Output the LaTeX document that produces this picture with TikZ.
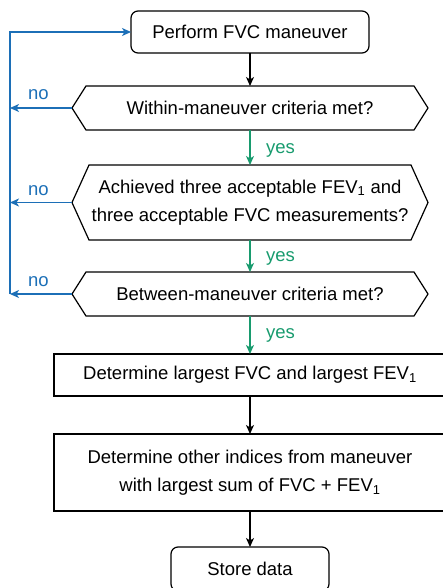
\documentclass[tikz,border=0pt]{standalone}
\usepackage{fontspec}
\setmainfont{Liberation Sans}
\usetikzlibrary{arrows.meta}
\definecolor{noblue}{RGB}{28,111,183}
\definecolor{yesgreen}{RGB}{24,155,110}
\begin{document}
\begin{tikzpicture}[x=1pt,y=-1pt,
 every node/.style={font=\fontsize{18.5}{28.5}\selectfont, inner sep=0pt, outer sep=0pt},
 rbox/.style={draw, rounded corners=7pt, line width=1.2pt, minimum height=42pt},
 pbox/.style={draw, line width=1.2pt, align=center},
 dnode/.style={minimum width=356pt, align=center},
 hexa/.style={draw, line width=1.2pt, line join=miter},
 flow/.style={line width=1.3pt, -{Stealth[length=9pt,width=8pt,inset=2.5pt]}},
 noline/.style={flow, draw=noblue},
 yesline/.style={flow, draw=yesgreen},
 nolab/.style={text=noblue, anchor=base west},
 yeslab/.style={text=yesgreen, anchor=base west}]
\useasboundingbox (0,0) rectangle (443,588);

% nodes
\node[rbox, minimum width=238pt] (p) at (250,32) {Perform FVC maneuver};
\node[dnode, minimum height=44pt] (d1) at (250,108) {Within-maneuver criteria met?};
\node[dnode, minimum height=75pt] (d2) at (250,202.5) {Achieved three acceptable FEV\textsubscript{1} and\\three acceptable FVC measurements?};
\node[dnode, minimum height=44pt] (d3) at (250,294) {Between-maneuver criteria met?};
\node[pbox, minimum width=392pt, minimum height=42pt] (b4) at (250,375) {Determine largest FVC and largest FEV\textsubscript{1}};
\node[pbox, minimum width=392pt, minimum height=77pt] (b5) at (250,472.5) {Determine other indices from maneuver\\with largest sum of FVC + FEV\textsubscript{1}};
\node[rbox, minimum width=158pt, minimum height=44pt] (s) at (250,569) {Store data};

% hexagons
\draw[hexa] (d1.west) -- ([xshift=14pt]d1.north west) -- ([xshift=-14pt]d1.north east) -- (d1.east) -- ([xshift=-14pt]d1.south east) -- ([xshift=14pt]d1.south west) -- cycle;
\draw[hexa] (d2.west) -- ([xshift=17pt]d2.north west) -- ([xshift=-17pt]d2.north east) -- (d2.east) -- ([xshift=-17pt]d2.south east) -- ([xshift=17pt]d2.south west) -- cycle;
\draw[hexa] (d3.west) -- ([xshift=14pt]d3.north west) -- ([xshift=-14pt]d3.north east) -- (d3.east) -- ([xshift=-14pt]d3.south east) -- ([xshift=14pt]d3.south west) -- cycle;

% loop coordinate
\coordinate (L) at (10,32);

% black flow
\draw[flow] (p.south) -- (d1.north);
\draw[flow] (b4.south) -- (b5.north);
\draw[flow] (b5.south) -- (s.north);

% yes flow
\draw[yesline] (d1.south) -- (d2.north);
\draw[yesline] (d2.south) -- (d3.north);
\draw[yesline] (d3.south) -- (b4.north);

% no flow
\draw[noline] (d1.west) -- (d1.west -| L);
\draw[noline] (d2.west) -- (d2.west -| L);
\draw[noline] (d3.west) -- (d3.west -| L);
\draw[noline] (d3.west -| L) -- (L) -- (p.west);

% labels
\node[nolab] (n1) at (28,100) {no};
\node[nolab] (n2) at (28,195) {no};
\node[nolab] (n3) at (28,286.5) {no};
\node[yeslab] (y1) at (266,153.5) {yes};
\node[yeslab] (y2) at (266,261) {yes};
\node[yeslab] (y3) at (266,338) {yes};
\end{tikzpicture}
\end{document}
